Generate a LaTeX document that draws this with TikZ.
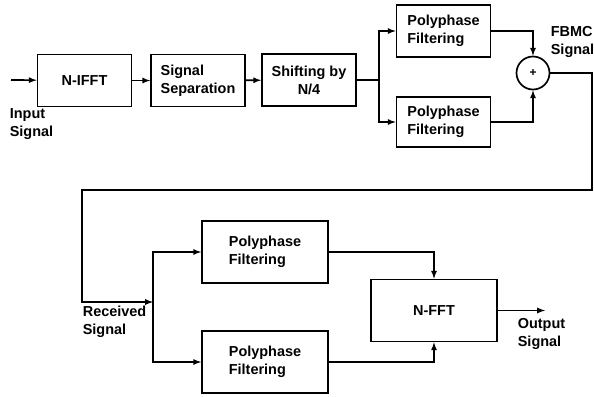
\documentclass[tikz,border=0pt]{standalone}
\usepackage{fontspec}
\setmainfont{Liberation Sans}
\usepackage{tikz}
\usetikzlibrary{positioning, arrows}

\begin{document}
\begin{tikzpicture}[
    x=1bp,y=-1bp,line width=1.7pt,
    font=\fontsize{14.5}{18}\selectfont\bfseries,
    txblk/.style={rectangle,draw,minimum width=94bp,minimum height=52bp,align=left},
    rxblk/.style={rectangle,draw,minimum width=126bp,minimum height=62bp,align=left},
    summ/.style={circle,draw,minimum size=33bp,inner sep=0pt,font=\fontsize{12}{14}\selectfont\bfseries},
    lbl/.style={anchor=north west,align=left,inner sep=0pt}
    ]
    \useasboundingbox (0,0) rectangle (594,396);
    % transmitter
    \node [txblk] (tx1) at (84.5,80.5) {N-IFFT};
    \node [txblk] (tx2) at (198,80.5) {Signal\\Separation};
    \node [txblk,align=center] (tx3) at (309,80) {Shifting by\\N/4};
    \node [txblk] (tx4) at (443.5,31) {Polyphase\\Filtering};
    \node [txblk,minimum height=50bp] (tx5) at (443.5,122) {Polyphase\\Filtering};
    \node [summ] (sum) at (533,73) {+};
    % receiver
    \node [rxblk] (rx1) at (265,252) {Polyphase\\Filtering};
    \node [rxblk] (rx2) at (265,362) {Polyphase\\Filtering};
    \node [rxblk] (rx3) at (434,310.5) {N-FFT};
    \coordinate (in) at (11,80);
    \coordinate (br1) at (379,80);
    \coordinate (br2) at (153,302);
    \coordinate (out) at (545,310.5);
    % labels
    \node [lbl] (bar1) at (9,108) {Input\\Signal};
    \node [lbl] (bar2) at (550,26) {FBMC\\Signal};
    \node [lbl] (bar3) at (82,305) {Received\\Signal};
    \node [lbl] (bar4) at (517,318) {Output\\Signal};
    % connectors
    \draw [-latex] (in) -- (tx1);
    \draw [-latex] (tx1) -- (tx2);
    \draw [-latex] (tx2) -- (tx3);
    \draw (tx3) -- (br1);
    \draw [-latex] (br1) |- (tx4.west);
    \draw [-latex] (br1) |- (tx5.west);
    \draw [-latex] (tx4.east) -| (sum.north);
    \draw [-latex] (tx5.east) -| (sum.south);
    \draw [-latex] (sum.east) -| (592,190) -- (82,190) |- (br2);
    \draw [-latex] (br2) |- (rx1.west);
    \draw [-latex] (br2) |- (rx2.west);
    \draw [-latex] (rx1.east) -| (rx3.north);
    \draw [-latex] (rx2.east) -| (rx3.south);
    \draw [-latex] (rx3) -- (out);
\end{tikzpicture}
\end{document}
